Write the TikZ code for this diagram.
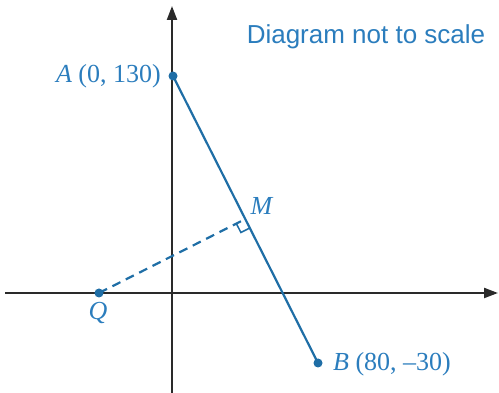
\documentclass[tikz,border=0pt]{standalone}
\usepackage{fontspec}
\setmainfont{Liberation Serif}
\newfontfamily\labelsans{Liberation Sans}
\usetikzlibrary{arrows.meta,calc}
\definecolor{txtblue}{HTML}{2B7DBD}
\definecolor{lineblue}{HTML}{1F6EA6}
\definecolor{axisgray}{HTML}{2A2A2A}
\begin{document}
\begin{tikzpicture}[x=1pt,y=-1pt,
  axis/.style={draw=axisgray,line width=2.2pt,-{Triangle[length=14pt,width=10pt]}},
  seg/.style={draw=lineblue,line width=2.2pt},
  dashseg/.style={draw=lineblue,line width=2.2pt,dash pattern=on 9pt off 6pt},
  dot/.style={circle,fill=lineblue,inner sep=0pt,minimum size=9pt},
  lab/.style={text=txtblue,font=\fontsize{26}{30}\selectfont,inner sep=0pt}]
\useasboundingbox (0,0) rectangle (499,393);
% axes
\coordinate (yb) at (172,393);
\coordinate (yt) at (172,6);
\coordinate (xl) at (5,293);
\coordinate (xr) at (498,293);
\draw[axis] (yb) -- (yt);
\draw[axis] (xl) -- (xr);
% points
\node[dot] (A) at (173,76) {};
\node[dot] (B) at (318,363) {};
\node[dot] (Q) at (99,293) {};
\coordinate (M) at ($(A)!(Q)!(B)$);
\draw[seg] (A.center) -- (B.center);
\draw[dashseg] (Q.center) -- (M);
% right angle mark
\coordinate (u) at ($(M)!10pt!(B)$);
\coordinate (v) at ($(M)!10pt!(Q)$);
\draw[draw=lineblue,line width=1.5pt] (u) -- ($(u)+(v)-(M)$) -- (v);
% labels
\node[lab,anchor=east] (Al) at (161,76) {\textit{A} (0, 130)};
\node[lab,anchor=west] (Bl) at (333,364) {\textit{B} (80, –30)};
\node[lab] (Ml) at (262,206) {\textit{M}};
\node[lab] (Ql) at (98,313) {\textit{Q}};
\node[text=txtblue,font=\labelsans\fontsize{26}{30}\selectfont,inner sep=0pt] (title) at (366,37) {Diagram not to scale};
\end{tikzpicture}
\end{document}
